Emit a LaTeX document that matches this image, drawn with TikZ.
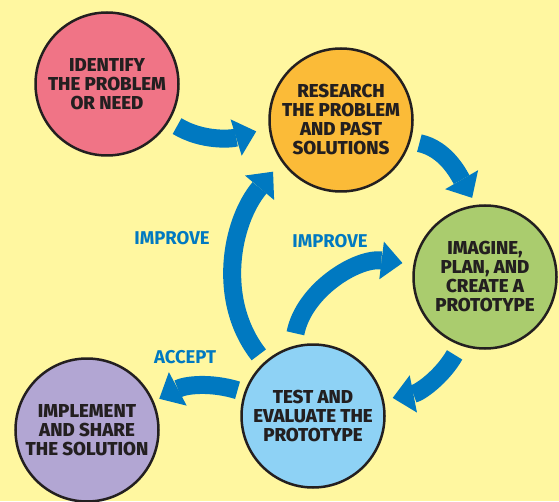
\documentclass[tikz,border=0pt]{standalone}
\usepackage{fontspec}
\setmainfont{Fira Sans}
\newfontfamily\heavyfont{Fira Sans ExtraBold}
\definecolor{bgyellow}{RGB}{255,247,160}
\definecolor{inkdark}{RGB}{35,31,32}
\definecolor{flowblue}{RGB}{0,121,193}
\definecolor{stepred}{RGB}{240,116,134}
\definecolor{steporange}{RGB}{251,187,56}
\definecolor{stepgreen}{RGB}{170,204,110}
\definecolor{stepblue}{RGB}{142,210,245}
\definecolor{steppurple}{RGB}{178,166,211}
\usetikzlibrary{arrows.meta}

\begin{document}
\begin{tikzpicture}[x=1pt,y=1pt]

	 \tikzstyle{stage}=[circle,draw=inkdark,line width=2.5pt,minimum size=143pt,inner sep=0pt,align=center,text=inkdark,font=\heavyfont\fontsize{18.7}{19}\selectfont]
	 \tikzstyle{flow}=[draw=flowblue,line width=18pt,-{Triangle[width=38pt,length=21pt,line width=0pt]}]
	 \tikzstyle{choice}=[text=flowblue,font=\bfseries\fontsize{18.5}{19}\selectfont]
	 % page
	 \fill[bgyellow] (0,0) rectangle (559,501);
	 \clip (0,0) rectangle (559,501);
	 % the five stages
	 \node[stage,fill=stepred] (identify) at (107,417) {IDENTIFY\\THE PROBLEM\\OR NEED};
	 \node[stage,fill=steporange] (research) at (341,381) {RESEARCH\\THE PROBLEM\\AND PAST\\SOLUTIONS};
	 \node[stage,fill=stepgreen] (imagine) at (485,224) {IMAGINE,\\PLAN, AND\\CREATE A\\PROTOTYPE};
	 \node[stage,fill=stepblue] (test) at (313,85) {TEST AND\\EVALUATE THE\\PROTOTYPE};
	 \node[stage,fill=steppurple] (implement) at (87,71) {IMPLEMENT\\AND SHARE\\THE SOLUTION};
	 % arrows between the stages
	 \draw[flow,shorten <=9pt,shorten >=13pt] (identify.-31) to[out=-31,in=197] (research.186);
	 \draw[flow,shorten <=9pt,shorten >=8pt] (research.-17) to[out=-12,in=120] (imagine.97);
	 \draw[flow,shorten <=11pt,shorten >=9pt] (imagine.-110) to[out=-120,in=11] (test.13);
	 \draw[flow,shorten <=7pt,shorten >=6pt] (test.161) to[out=163,in=28] (implement.23);
	 \draw[flow,shorten <=9pt,shorten >=13pt] (test.132) to[out=128,in=230] (research.215);
	 \draw[flow,shorten <=13pt,shorten >=11pt] (test.106) to[out=79,in=173] (imagine.170);
	 % arrow labels
	 \node[choice] (improveback) at (172,263) {IMPROVE};
	 \node[choice] (improvenext) at (330,260) {IMPROVE};
	 \node[choice] (accept) at (185,144) {ACCEPT};

\end{tikzpicture}
\end{document}
